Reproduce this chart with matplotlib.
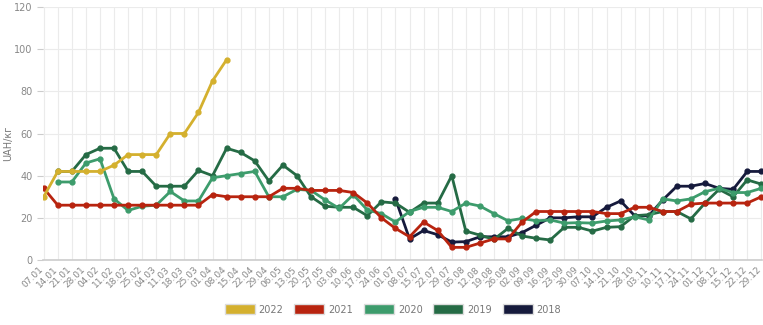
import numpy as np
import matplotlib
matplotlib.use('Agg')
import matplotlib.pyplot as plt
import matplotlib.transforms as mtransforms
from matplotlib.patches import Patch

# Weekly labels (dd.mm)
labels = ['07.01', '14.01', '21.01', '28.01', '04.02', '11.02', '18.02', '25.02',
          '04.03', '11.03', '18.03', '25.03', '01.04', '08.04', '15.04', '22.04',
          '29.04', '06.05', '13.05', '20.05', '27.05', '03.06', '10.06', '17.06',
          '24.06', '01.07', '08.07', '15.07', '22.07', '29.07', '05.08', '12.08',
          '19.08', '26.08', '02.09', '09.09', '16.09', '23.09', '30.09', '07.10',
          '14.10', '21.10', '28.10', '03.11', '10.11', '17.11', '24.11', '01.12',
          '08.12', '15.12', '22.12', '29.12']

nan = np.nan

y2022 = [30, 42, 42, 42, 42, 45, 50, 50, 50, 60, 60, 70, 85, 95]

y2021 = [34, 26, 26, 26, 26, 26, 26, 26, 26, 26, 26, 26, 31, 30, 30, 30,
         30, 34, 34, 33, 33, 33, 32, 27, 20, 15, 11, 18, 14, 6, 6, 8,
         10, 10, 18, 23, 23, 23, 23, 23, 22, 22, 25, 25, 23, 23, 26.5, 27,
         27, 27, 27, 30]

y2020 = [nan, 37, 37, 46, 48, 29, 23.5, 25.5, 26, 32.5, 28, 28, 39, 40, 41, 42,
         30, 30, 33.5, 33, 28.5, 24.5, 31, 23.7, 22, 18, 23, 25, 25, 23, 27, 25.6,
         22, 18.6, 19.7, 18.6, 19, 17.5, 17.7, 17.5, 18.5, 19, 20.5, 19, 29, 28, 29, 32.4,
         34, 32, 32, 34]

y2019 = [nan, 42, 42, 50, 53, 53, 42, 42, 35, 35, 35, 42.5, 40, 53, 51, 47,
         37.5, 45, 40, 30, 25.5, 25, 25, 21, 27.6, 27, 22.6, 27, 27, 40, 13.7, 11.8,
         9.8, 15, 11.4, 10.3, 9.5, 15.5, 15.5, 13.7, 15.5, 15.8, 21, 21.5, 23, 23, 19.5, 27,
         33.5, 30, 38, 36]

y2018 = [nan] * 25 + [29, 10, 14, 12, 8.5, 8.7, 11,
         11, 11, 13, 16.5, 20, 20, 20.5, 20.5, 25, 28, 21, 21, 28.5, 35, 35, 36.3,
         34, 33.5, 42, 42]

series = [('2018', y2018, '#161a3c'),
          ('2019', y2019, '#256b45'),
          ('2020', y2020, '#3d9c6c'),
          ('2021', y2021, '#b8240f'),
          ('2022', y2022, '#d4b02e')]

fig = plt.figure(figsize=(7.63, 3.25), dpi=100)
ax = fig.add_axes([43 / 763, 1 - 260 / 325, 719 / 763, 253 / 325])

x = np.arange(len(labels))
for name, vals, color in series:
    ax.plot(x[:len(vals)], vals, color=color, lw=2, marker='o', ms=3.5,
            solid_joinstyle='round', zorder=3)

ax.set_xlim(-0.05, len(labels) - 1 + 0.05)
ax.set_ylim(0, 120)
ax.set_yticks(range(0, 121, 20))
ax.set_xticks(x)
ax.set_xticklabels([])

# rotated date labels, nudged left a bit like the original
shift = mtransforms.ScaledTranslation(-5 / 100, -5 / 100, fig.dpi_scale_trans)
for i, lab in enumerate(labels):
    ax.text(i, 0, lab, transform=ax.get_xaxis_transform() + shift,
            rotation=45, ha='right', va='top', rotation_mode='anchor',
            fontsize=6.5, color='#888888')

ax.tick_params(axis='y', labelsize=7, colors='#888888', length=4, color='#cccccc')
ax.tick_params(axis='x', length=0)
ax.grid(True, color='#ebebeb', lw=0.8, zorder=0)
for s in ['top', 'right', 'left']:
    ax.spines[s].set_visible(False)
ax.spines['bottom'].set_color('#cccccc')
ax.spines['bottom'].set_linewidth(1.2)
ax.set_ylabel('UAH/кг', fontsize=7, color='#777777')
ax.yaxis.set_label_coords(-0.042, 0.46)

handles = [Patch(facecolor=c, edgecolor='#dddddd', label=n)
           for n, _, c in reversed(series)]
fig.legend(handles=handles, loc='lower center', ncol=5, frameon=False,
           fontsize=7, bbox_to_anchor=(0.515, 0.005), handlelength=3.1,
           handleheight=1.25, handletextpad=0.4, columnspacing=1.1,
           labelcolor='#777777')

fig.savefig('out.png', dpi=100, facecolor='white')
